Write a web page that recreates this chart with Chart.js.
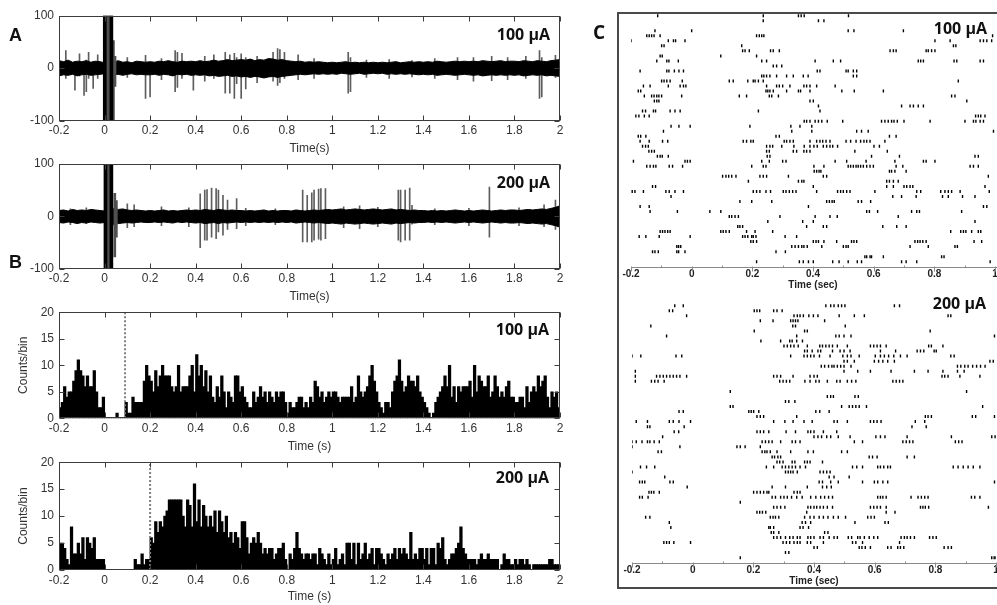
<!DOCTYPE html>
<html><head><meta charset="utf-8">
<script src="https://cdn.jsdelivr.net/npm/chart.js@4/dist/chart.umd.min.js"></script>
<style>
html,body{margin:0;padding:0;background:#fff;}
body{position:relative;width:997px;height:605px;overflow:hidden;}
canvas{position:absolute;}
.lab{position:absolute;font-family:'Liberation Sans',Arial,sans-serif;font-weight:bold;font-size:18px;line-height:22px;color:#111;}
.amp{position:absolute;font-family:'Open Sans',sans-serif;font-weight:bold;font-size:16px;line-height:20px;color:#111;white-space:nowrap;}
#frame{position:absolute;left:617px;top:12px;width:420px;height:577px;border:2px solid #4a4a4a;box-sizing:border-box;}
</style></head><body>
<div id="frame"></div>
<canvas id="cA1" width="580" height="160" style="left:0;top:0"></canvas>
<canvas id="cA2" width="580" height="160" style="left:0;top:150px"></canvas>
<canvas id="cB1" width="580" height="160" style="left:0;top:300px"></canvas>
<canvas id="cB2" width="580" height="155" style="left:0;top:450px"></canvas>
<canvas id="cC1" width="420" height="295" style="left:600px;top:0"></canvas>
<canvas id="cC2" width="420" height="305" style="left:600px;top:290px"></canvas>
<div class="lab" style="left:9px;top:24px">A</div>
<div class="lab" style="left:9px;top:251px">B</div>
<div class="lab" style="left:593px;top:21px;font-family:'Open Sans',sans-serif;font-size:19px">C</div>
<div class="amp" style="right:447px;top:24px">100 µA</div>
<div class="amp" style="right:447px;top:172px">200 µA</div>
<div class="amp" style="right:448px;top:319px">100 µA</div>
<div class="amp" style="right:448px;top:467px">200 µA</div>
<div class="amp" style="right:10px;top:18px">100 µA</div>
<div class="amp" style="right:11px;top:293px">200 µA</div>
<script>
// ---------- tick labels ----------
const timeTicks = [-0.2,0,0.2,0.4,0.6,0.8,1,1.2,1.4,1.6,1.8,2];
const timeTickLabels = ['-0.2','0','0.2','0.4','0.6','0.8','1','1.2','1.4','1.6','1.8','2'];
const ampTicks = [-100,0,100];
const ampTickLabels = ['-100','0','100'];
const countTicks = [0,5,10,15,20];
const countTickLabels = ['0','5','10','15','20'];
const rasterTicks = [-0.2,0,0.2,0.4,0.6,0.8,1];
const rasterTickLabels = ['-0.2','0','0.2','0.4','0.6','0.8','1'];

// ---------- A: raw traces (noise band envelope every 0.02 s from -0.2 s) ----------
const bandStart = -0.2, bandStep = 0.02;
const traceA100Upper = [14,12,15,11,13,12,14,11,13,12, 10,12,11,14,11,12,10,13,12,11, 12,11,13,12,14,12,11,13,12,13,
 12,14,12,13,15,13,14,16,14,15, 16,15,17,14,16,15,18,17,15,16, 14,13,12,13,11,12,11,12,11,10,
 11,10,11,12,10,11,10,11,10,11, 10,11,10,11,12,10,11,12,11,12, 11,12,11,13,12,11,12,13,12,13,
 12,13,12,14,13,12,13,14,12,13, 13,12,14,13,12,14,13,12,14,15,16];
const traceA100Lower = [-15,-13,-14,-12,-15,-13,-12,-14,-13,-12, -11,-12,-13,-12,-14,-12,-11,-13,-12,-13, -13,-12,-14,-12,-13,-15,-12,-13,-12,-14,
 -13,-14,-13,-15,-14,-16,-15,-14,-16,-15, -17,-16,-18,-16,-17,-19,-17,-16,-18,-16, -15,-14,-13,-12,-13,-12,-11,-12,-11,-12,
 -11,-12,-10,-11,-12,-11,-10,-12,-11,-10, -11,-10,-12,-11,-12,-11,-12,-11,-12,-13, -12,-13,-12,-14,-13,-12,-13,-14,-13,-12,
 -13,-14,-13,-15,-14,-13,-14,-13,-14,-13, -14,-13,-15,-14,-13,-14,-13,-15,-14,-15,-16];
const traceA200Upper = [11,12,10,13,11,12,11,13,12,11, 10,14,15,13,14,12,11,12,11,10, 11,10,11,12,10,11,10,11,12,11,
 12,11,13,12,11,13,12,11,12,11, 11,10,11,10,11,12,10,11,10,11, 11,10,12,11,10,11,12,11,12,13,
 12,13,14,12,13,14,13,12,13,14, 13,12,13,14,12,13,12,11,12,11, 11,10,11,10,11,10,11,12,11,10,
 11,10,11,12,11,10,11,12,11,12, 12,11,12,13,12,13,14,13,15,17,20];
const traceA200Lower = [-12,-13,-11,-12,-14,-12,-13,-11,-12,-13, -12,-15,-16,-14,-13,-12,-13,-12,-11,-12, -12,-11,-12,-11,-12,-13,-11,-12,-11,-12,
 -13,-12,-14,-13,-12,-14,-12,-13,-12,-11, -12,-11,-12,-11,-12,-11,-12,-11,-12,-11, -12,-11,-13,-12,-11,-12,-13,-12,-13,-14,
 -13,-14,-15,-13,-14,-15,-14,-13,-14,-15, -14,-13,-14,-15,-13,-14,-13,-12,-13,-12, -12,-11,-12,-11,-12,-11,-12,-13,-12,-11,
 -12,-11,-12,-13,-12,-11,-12,-13,-12,-13, -13,-12,-13,-14,-13,-14,-15,-14,-16,-18,-21];
// spikes: [time s, min, max]
const spikesA100 = [[-0.17,-20,33],[-0.13,-42,12],[-0.11,-15,27],[-0.09,-52,10],[-0.08,-45,15],[-0.07,-20,30],[-0.05,-39,12],[-0.03,-20,25],
 [0.10,-18,20],[0.18,-58,24],[0.20,-55,10],[0.25,-22,18],[0.31,-45,33],[0.32,-37,30],[0.34,-20,28],[0.39,-42,12],[0.44,-25,22],[0.48,-20,25],
 [0.53,-48,30],[0.55,-48,25],[0.57,-58,28],[0.58,-30,20],[0.60,-58,27],[0.62,-40,20],[0.67,-28,22],[0.74,-25,30],[0.76,-33,37],[0.77,-28,35],[0.79,-20,30],
 [0.85,-22,25],[0.92,-20,18],[1.07,-48,30],[1.08,-45,20],[1.15,-18,15],[1.25,-20,16],[1.35,-17,14],[1.45,-20,18],[1.55,-22,20],[1.62,-25,20],
 [1.70,-24,22],[1.77,-22,20],[1.85,-20,22],[1.91,-58,33],[1.92,-55,20],[1.98,-18,24]];
const spikesA200 = [[-0.15,-16,14],[-0.08,-14,16],[0.10,-22,24],[0.13,-20,22],[0.25,-18,18],[0.37,-20,16],
 [0.42,-60,43],[0.44,-46,50],[0.45,-46,51],[0.47,-40,54],[0.49,-43,53],[0.50,-30,50],[0.52,-36,40],[0.54,-25,31],[0.58,-24,34],[0.62,-18,15],[0.75,-16,14],
 [0.87,-49,50],[0.89,-49,40],[0.91,-49,45],[0.92,-46,50],[0.94,-44,52],[0.95,-46,53],[0.97,-43,53],
 [1.05,-22,18],[1.12,-24,20],[1.20,-20,17],[1.29,-46,50],[1.30,-49,50],[1.32,-46,50],[1.34,-46,54],[1.35,-15,21],[1.45,-16,14],[1.60,-18,15],
 [1.69,-40,56],[1.82,-18,16],[1.93,-20,22],[1.98,-25,31]];
// stimulus artifacts: [time s, min, max]
const artifactBlackA100 = [[0.001,-100,100],[0.03,-100,100]];
const artifactGrayA100 = [[0.012,-100,100],[0.019,-100,100],[0.039,-100,52],[0.046,-35,22]];
const artifactBlackA200 = [[0.004,-100,100],[0.03,-100,100]];
const artifactGrayA200 = [[0.013,-100,100],[0.02,-100,100],[0.045,-78,44],[0.052,-40,30]];

// ---------- B: PSTH, 0.01 s bins from -0.2 s ----------
const histStart = -0.2, binWidth = 0.01;
const psth100 = [2,3,6,4,5,5,7,9,11,9, 8,6,8,6,6,9,5,2,2,4, 0,0,0,0,0,1,0,0,0,3, 1,1,4,3,3,3,3,7,10,8,
 7,5,9,6,8,10,8,8,8,6, 5,6,10,5,6,6,6,8,10,5, 12,8,10,6,9,5,8,4,3,6, 4,8,5,2,5,4,3,8,8,5,
 6,4,3,2,2,5,3,4,6,4, 5,3,5,4,3,5,4,5,5,3, 1,3,2,2,3,4,4,2,3,2, 4,3,7,6,4,5,3,4,5,4,
 5,5,4,3,4,4,4,4,6,3, 4,8,5,4,5,6,8,10,7,5, 3,2,1,3,3,2,5,7,8,11, 7,5,6,8,7,7,6,8,5,4,
 3,2,1,0,1,3,4,5,6,8, 6,10,4,6,3,6,5,6,6,6, 7,4,10,5,8,7,6,6,8,4, 5,8,6,4,5,4,6,7,4,4,
 3,3,4,4,2,6,3,5,6,5, 8,6,7,8,4,2,5,4,5,2];
const psth200 = [5,5,4,2,1,8,3,3,5,3, 6,2,6,5,4,6,2,2,2,2, 0,0,0,0,0,0,0,0,0,0, 0,0,0,2,1,1,3,1,2,2,
 6,5,9,7,9,8,10,11,13,13, 13,13,13,13,10,8,13,12,8,16, 9,13,8,12,10,8,10,8,11,7, 11,9,7,10,6,7,5,7,6,4,
 9,9,6,3,5,6,5,7,5,3, 4,3,4,4,2,3,4,4,5,2, 0,3,2,4,7,4,3,2,3,3, 2,3,3,1,4,3,2,1,3,1,
 2,4,1,2,3,1,5,5,2,5, 1,5,2,3,5,2,3,4,1,4, 4,3,2,1,3,2,3,4,2,4, 3,4,3,2,7,2,3,2,4,4,
 2,4,1,4,4,1,5,4,6,2, 1,2,3,3,4,5,8,4,3,2, 2,2,2,1,2,3,2,2,3,2, 2,2,2,0,1,3,2,2,1,1,
 2,1,2,2,1,2,1,0,1,1, 1,1,1,1,1,2,2,1,1,1];
const stimLine100 = 0.09, stimLine200 = 0.2;

// ---------- C: rasters, spike times (s) per trial ----------
const raster100 = [
[-0.112,0.236,0.352,0.361,0.371,0.517],
[0.236,0.418,0.436],
[],
[-0.121,0,0.516,0.535,0.698],
[-0.148,-0.14,-0.132,-0.124,-0.104,0.214,0.223,0.231,0.238,0.992],
[-0.2,-0.077,-0.06,-0.053,-0.022,0.802,0.852,0.951,0.962,0.973,0.989],
[-0.099,-0.091,0.165,0.863,0.871],
[0.168,0.176,0.19,0.26,0.269,0.289,0.654,0.665,0.674,0.773,0.78,0.791,0.802],
[-0.104,-0.097,0.096,0.214],
[-0.115,-0.082,-0.075,-0.044,0.231,0.247,0.407,0.467,0.491,0.747,0.755,0.764,0.865,0.874,0.951,0.962],
[0.269,0.28,0.297],
[-0.17,-0.082,-0.075,-0.057,-0.042,-0.027,0.414,0.423,0.509,0.516,0.533,0.544],
[0.231,0.238,0.247,0.258,0.28,0.313,0.335,0.368,0.384,0.533,0.544],
[-0.099,-0.091,-0.082,-0.071,-0.031,0.124,0.137,0.185,0.203,0.209,0.22,0.236,0.879],
[-0.159,-0.137,-0.077,-0.038,-0.027,-0.019,0.247,0.28,0.289,0.3,0.324,0.37,0.379,0.39,0.412,0.473],
[-0.176,-0.168,0.245,0.251,0.258,0.269,0.313,0.352,0.359,0.39,0.495,0.536,0.632],
[-0.156,-0.132,-0.124,-0.115,-0.108,-0.099,-0.033,0.157,0.181,0.256,0.264,0.286,0.857,0.868],
[-0.123,-0.115,-0.108,0.39,0.401,0.907],
[0.418,0.692,0.72,0.731,0.747,0.764],
[-0.162,-0.152,-0.126,-0.119,-0.071,-0.055,-0.038,0.22,0.423],
[-0.184,-0.174,-0.156,-0.14,0.936,0.945,0.953,0.967],
[0.371,0.379,0.39,0.407,0.418,0.429,0.447,0.498,0.626,0.637,0.648,0.659,0.667,0.678,0.7,0.786,0.901,0.929,0.937,0.951,0.962],
[-0.068,-0.042,-0.005,0.192,0.327,0.357,0.396],
[-0.093,0.33,0.396,0.544,0.56,0.582,0.995],
[-0.176,-0.168,-0.151,0.278,0.289,0.652,0.674],
[-0.17,-0.14,-0.096,-0.079,0.17,0.181,0.195,0.203,0.305,0.313,0.324,0.335,0.39,0.412,0.423,0.432,0.443,0.456,0.509,0.524,0.542,0.557,0.568,0.577,0.588,0.637],
[-0.162,-0.152,-0.143,0.247,0.258,0.267,0.297,0.337,0.371,0.39,0.403,0.414,0.434,0.445,0.456,0.465,0.481,0.601,0.619],
[-0.141,-0.132,-0.123,0.247,0.256,0.335,0.346,0.37,0.379,0.39,0.538,0.645],
[-0.113,-0.104,-0.097,-0.077,0.249,0.258,0.593,0.685,0.934,0.945],
[-0.192,-0.022,-0.014,-0.005,0.231,0.256,0.3,0.311,0.473,0.511,0.575,0.67,0.764,0.773,0.802],
[-0.148,-0.137,-0.126,-0.118,-0.074,-0.063,-0.03,0.198,0.236,0.245,0.403,0.436,0.516,0.524,0.533,0.542,0.549,0.557,0.566,0.577,0.588,0.599,0.674,0.696,0.918,0.929,0.945],
[0.404,0.412,0.42,0.426,0.652,0.659,0.67,0.707],
[0.102,0.113,0.122,0.132,0.146,0.225,0.236,0.247,0.319,0.434,0.445,0.978],
[0.187,0.352,0.363,0.37,0.643,0.652,0.665,0.681],
[-0.129,-0.119,0.401,0.643,0.665,0.7,0.709,0.72,0.729,0.967],
[-0.196,-0.187,-0.159,-0.085,-0.074,-0.055,-0.027,0.203,0.214,0.225,0.245,0.26,0.302,0.311,0.322,0.333,0.344,0.412,0.481,0.491,0.5,0.511,0.522,0.604,0.742,0.755,0.821,0.835,0.846,0.857,0.885,0.981],
[-0.068,0.663,0.692,0.74,0.827,0.846,0.893,0.934],
[0.159,0.198,0.264,0.445,0.454,0.463,0.47,0.549,0.56,0.59],
[-0.17,-0.14,0.385,0.962,0.973],
[-0.137,-0.047,0.06,0.096,0.577,0.586,0.613,0.725,0.742,0.751,0.89],
[0.124,0.132,0.143,0.154,0.291,0.407,0.456,0.48,0.681],
[0.251,0.366,0.401,0.934],
[0.152,0.159,0.168,0.379,0.434,0.445,0.63,0.676,0.707],
[-0.104,-0.096,-0.088,-0.079,-0.071,0.096,0.104,0.113,0.124,0.181,0.209,0.267,0.854,0.887,0.896,0.904,0.923,0.945,0.953],
[-0.173,-0.151,-0.107,-0.005,0.168,0.176,0.185,0.198,0.203,0.212,0.308,0.346],
[0.195,0.203,0.214,0.401,0.41,0.418,0.436,0.478,0.527,0.535,0.544,0.736,0.745,0.753,0.762,0.773,0.931,0.956],
[-0.049,-0.043,-0.036,0.33,0.341,0.352,0.363,0.37,0.381,0.429,0.5,0.509,0.516,0.72,0.78,0.868,0.876],
[-0.129,-0.121,-0.11,-0.049,-0.043,-0.022,0.278,0.309],
[0.571,0.577,0.588,0.593,0.632,0.824,0.832],
[0.214,0.355,0.368,0.385,0.401,0.465,0.486,0.516,0.546,0.56,0.692,0.707,0.742,0.984]
];
const raster200 = [
[-0.059,-0.031,0.439,0.455,0.466,0.48,0.491,0.502,0.665,0.682],
[-0.077,-0.066,0.203,0.212,0.221,0.267,0.278,0.295],
[-0.02,0.334,0.345,0.354,0.365,0.383,0.398,0.413,0.483,0.533,0.566,0.842,0.851],
[0.223,0.265,0.323,0.331,0.339,0.347,0.435],
[-0.138,0.33,0.339,0.503],
[0.203,0.369,0.378,0.783],
[-0.086,0.343,0.472,0.483,0.499,0.522,0.995],
[0.225,0.29,0.32,0.328,0.343,0.362],
[0.301,0.312,0.323,0.334,0.348,0.378,0.419,0.428,0.439,0.45,0.461,0.477,0.51,0.586,0.597,0.608,0.619,0.638,0.778,0.787,0.825],
[0.369,0.378,0.394,0.413,0.422,0.461,0.486,0.499,0.519,0.619,0.669,0.74,0.751,0.762,0.796,0.803],
[-0.2,-0.171,-0.055,-0.036,0.323,0.367,0.378,0.389,0.4,0.418,0.453,0.495,0.51,0.522,0.549,0.602,0.619,0.632,0.646,0.663,0.685,0.707,0.851,0.862],
[0.499,0.51,0.533,0.599,0.613,0.627,0.643,0.665,0.98,0.991],
[0.424,0.435,0.448,0.459,0.466,0.477,0.488,0.499,0.522,0.873,0.884,0.897,0.908,0.923,0.936,0.949,0.964],
[-0.189,0.499,0.544,0.586,0.654,0.731,0.776,0.825,0.873,0.895],
[-0.189,-0.119,-0.108,-0.097,-0.086,-0.075,-0.064,-0.053,-0.042,-0.02,0.267,0.278,0.29,0.331,0.387,0.4,0.411,0.822,0.831,0.842,0.881,0.947],
[-0.189,-0.136,-0.125,-0.114,-0.094,0.287,0.298,0.309,0.32,0.37,0.387,0.406,0.417,0.444,0.475,0.486,0.51,0.524,0.538,0.66,0.671,0.682,0.693],
[],
[0.124,0.903],
[0.444,0.455,0.464,0.535,0.546],
[0.306,0.317,0.337],
[0.124,0.133,0.491,0.516,0.527,0.538,0.549,0.573,0.956],
[-0.045,-0.031,0.185,0.193,0.201,0.218,0.406,0.419,0.45],
[0.212,0.223,0.234,0.343,0.767,0.776,0.787,0.922,0.933,0.995],
[-0.186,-0.149,-0.077,-0.064,-0.045,-0.007,0.267,0.304,0.331,0.367,0.394,0.466,0.477,0.51,0.586,0.597,0.608,0.621,0.734,0.765],
[-0.149,-0.141,-0.028,0.723,0.77],
[-0.061,-0.046,0.212,0.223,0.234,0.251,0.308,0.339,0.38,0.389,0.4,0.431,0.475],
[-0.099,0.4,0.413,0.425,0.442,0.455,0.48,0.519,0.604,0.619,0.634,0.707,0.853,0.986,0.997],
[-0.2,-0.186,-0.167,-0.149,-0.141,-0.127,-0.11,0.229,0.24,0.251,0.262,0.29,0.328,0.339,0.354,0.533,0.56,0.693,0.704,0.715,0.726,0.866,0.877,0.888],
[-0.2,-0.042,0.146,0.157,0.173,0.223],
[-0.114,-0.103,0.229,0.238,0.245,0.256,0.278,0.323,0.38,0.398,0.491,0.51],
[0.262,0.27,0.281,0.29,0.582,0.593,0.608,0.707,0.731],
[0.278,0.287,0.298,0.328,0.337,0.369,0.378,0.387,0.428],
[-0.172,-0.152,-0.125,0.243,0.267,0.295,0.306,0.317,0.328,0.339,0.354,0.372,0.527,0.541,0.56,0.61,0.619,0.63,0.643,0.652,0.859,0.875,0.892,0.908,0.925,0.947],
[-0.2,0.306,0.315,0.323,0.331,0.345,0.42,0.431,0.442,0.453],
[-0.092,0.45,0.466,0.516],
[-0.175,-0.166,-0.158,-0.075,-0.064,0.417,0.428,0.455,0.48,0.56,0.599,0.61,0.627,0.643,0.995],
[-0.018,0.262,0.306,0.378,0.428,0.442,0.457],
[-0.144,-0.136,-0.128,-0.11,0.201,0.212,0.223,0.234,0.245,0.251,0.334,0.345,0.354],
[-0.175,-0.166,-0.147,0.262,0.273,0.29,0.301,0.312,0.326,0.343,0.361,0.389,0.406,0.422,0.435,0.448,0.461,0.61,0.619,0.627,0.638,0.72,0.743,0.754,0.765,0.776,0.919,0.93,0.947],
[0.157],
[0.267,0.278,0.29,0.304,0.38,0.389,0.4,0.409,0.42,0.431,0.444,0.461,0.586,0.597,0.608,0.619,0.638,0.751,0.759,0.767,0.778,0.975],
[0.212,0.221,0.23,0.241,0.376,0.638,0.667],
[-0.155,-0.141,0.256,0.265,0.273,0.284,0.369,0.387,0.4,0.417,0.431,0.446,0.464,0.48,0.504,0.577,0.588,0.599],
[-0.077,0.361,0.372,0.389,0.535,0.634,0.645],
[-0.072,0.251,0.256,0.267,0.354,0.364,0.382],
[0.259,0.267,0.284,0.435,0.446],
[0.267,0.278,0.29,0.306,0.32,0.331,0.345,0.354,0.38,0.389,0.4,0.42,0.431,0.45,0.466,0.477,0.513,0.524,0.544,0.552,0.566,0.582,0.597,0.61,0.687,0.698,0.707,0.718,0.731,0.781,0.792,0.803],
[-0.095,-0.086,-0.077,-0.062,-0.007,0.298,0.309,0.32,0.334,0.345,0.354,0.378,0.389,0.431,0.527,0.538,0.56,0.682],
[0.4,0.411,0.549,0.558,0.569,0.586,0.643,0.654,0.676,0.685,0.696,0.829,0.842,0.853],
[0.306,0.317],
[0.157,0.986,0.994,1.0]
];

// ---------- plugins ----------
const FONT = "'Liberation Sans', Arial, sans-serif";
const boxPlugin = {
  id: 'box',
  afterDraw(chart, args, o) {
    if (!o || !o.on) return;
    const {ctx, chartArea: a} = chart;
    const x = chart.scales.x, y = chart.scales.y;
    const L = Math.round(a.left) + 0.5, R = Math.round(a.right) - 0.5;
    const T = Math.round(a.top) + 0.5, B = Math.round(a.bottom) - 0.5;
    ctx.save();
    ctx.strokeStyle = '#3c3c3c'; ctx.lineWidth = 1;
    ctx.strokeRect(L, T, R - L, B - T);
    ctx.beginPath();
    x.ticks.forEach(t => {
      const p = Math.round(x.getPixelForValue(t.value)) + 0.5;
      ctx.moveTo(p, B); ctx.lineTo(p, B - 5);
      ctx.moveTo(p, T); ctx.lineTo(p, T + 5);
    });
    y.ticks.forEach(t => {
      const p = Math.round(y.getPixelForValue(t.value)) + 0.5;
      ctx.moveTo(L, p); ctx.lineTo(L + 5, p);
      ctx.moveTo(R, p); ctx.lineTo(R - 5, p);
    });
    ctx.stroke();
    ctx.restore();
  }
};
const rasterAxisPlugin = {
  id: 'rasterAxis',
  afterDraw(chart, args, o) {
    if (!o || !o.on) return;
    const {ctx, chartArea: a} = chart;
    const x = chart.scales.x;
    const yb = Math.round(a.bottom) + 0.5;
    ctx.save();
    ctx.strokeStyle = '#8a8a8a'; ctx.lineWidth = 1;
    ctx.beginPath();
    ctx.moveTo(x.getPixelForValue(x.min), yb); ctx.lineTo(chart.width, yb);
    const tk = x.ticks.map(t => t.value);
    tk.forEach((v, i) => {
      const p = Math.round(x.getPixelForValue(v)) + 0.5;
      ctx.moveTo(p, yb - 1); ctx.lineTo(p, yb + 4);
      if (i < tk.length - 1) {
        const q = Math.round((x.getPixelForValue(v) + x.getPixelForValue(tk[i + 1])) / 2) + 0.5;
        ctx.moveTo(q, yb - 2); ctx.lineTo(q, yb);
      }
    });
    ctx.stroke();
    ctx.restore();
  }
};
Chart.register(boxPlugin, rasterAxisPlugin);

const noGrid = {display: false, drawTicks: false};
function xTimeAxis(title, height, titlePadB) {
  return {
    type: 'linear', min: -0.2, max: 2, offset: false,
    grid: noGrid, border: {display: false},
    afterBuildTicks: s => { s.ticks = timeTicks.map(v => ({value: v})); },
    ticks: {callback: (v, i) => timeTickLabels[i], padding: 3, maxRotation: 0, autoSkip: false, color: '#333', font: {family: FONT, size: 12}},
    title: {display: true, text: title, color: '#333', font: {family: FONT, size: 12}, padding: {top: 0, bottom: titlePadB}},
    afterFit: s => { s.height = height; }
  };
}
function yAxis(min, max, ticks, labels, title) {
  return {
    min: min, max: max, grid: noGrid, border: {display: false},
    afterBuildTicks: s => { s.ticks = ticks.map(v => ({value: v})); },
    ticks: {callback: (v, i) => labels[i], padding: 5, color: '#333', font: {family: FONT, size: 12}},
    title: title ? {display: true, text: title, color: '#333', font: {family: FONT, size: 12}, padding: {top: 16, bottom: 0}} : {display: false},
    afterFit: s => { s.width = 59; }
  };
}
const baseOpts = {responsive: false, animation: false, events: []};

function makeTrace(id, upper, lower, spikes, artBlack, artGray, padTop, xH, titlePadB) {
  const band = arr => arr.map((v, i) => ({x: bandStart + i * bandStep, y: v}));
  const seg = arr => arr.map(s => ({x: s[0], y: [s[1], s[2]]}));
  new Chart(document.getElementById(id), {
    type: 'bar',
    data: {datasets: [
      {type: 'line', data: band(upper), borderColor: '#000', borderWidth: 1, pointRadius: 0, tension: 0, fill: '+1', backgroundColor: '#000', order: 2},
      {type: 'line', data: band(lower), borderColor: '#000', borderWidth: 1, pointRadius: 0, tension: 0, fill: false, order: 2},
      {data: seg(spikes), backgroundColor: '#5e5e5e', barThickness: 1, order: 3},
      {data: seg(artGray), backgroundColor: '#505050', barThickness: 2, order: 1},
      {data: seg(artBlack), backgroundColor: '#000', barThickness: 3, order: 0}
    ]},
    options: Object.assign({}, baseOpts, {
      datasets: {bar: {grouped: false, borderWidth: 0}},
      layout: {padding: {top: padTop, right: 20, left: 0, bottom: 0}},
      plugins: {legend: {display: false}, tooltip: {enabled: false}, box: {on: true}},
      scales: {x: xTimeAxis('Time(s)', xH, titlePadB), y: yAxis(-100, 100, ampTicks, ampTickLabels, null)}
    })
  });
}
function makePsth(id, counts, stim, padTop, xH, titlePadB) {
  new Chart(document.getElementById(id), {
    type: 'bar',
    data: {datasets: [
      {type: 'line', data: [{x: stim, y: 0}, {x: stim, y: 20}], borderColor: '#808080', borderWidth: 2, borderDash: [2, 2], pointRadius: 0, order: 0},
      {data: counts.map((c, i) => ({x: histStart + (i + 0.5) * binWidth, y: c})), backgroundColor: '#000', borderWidth: 0,
       barThickness: 2.6, order: 1}
    ]},
    options: Object.assign({}, baseOpts, {
      datasets: {bar: {grouped: false}},
      layout: {padding: {top: padTop, right: 20, left: 0, bottom: 0}},
      plugins: {legend: {display: false}, tooltip: {enabled: false}, box: {on: true}},
      scales: {x: xTimeAxis('Time (s)', xH, titlePadB), y: yAxis(0, 20, countTicks, countTickLabels, 'Counts/bin')}
    })
  });
}
function makeRaster(id, trials, padLeft, padRight, padTop, yMax, xH, titlePadB) {
  const pts = [];
  trials.forEach((row, r) => row.forEach(t => pts.push({x: t, y: r + 1})));
  new Chart(document.getElementById(id), {
    type: 'scatter',
    data: {datasets: [{data: pts, pointStyle: 'line', rotation: 90, radius: 1.5, borderWidth: 1.4, borderColor: '#000', backgroundColor: '#000'}]},
    options: Object.assign({}, baseOpts, {
      layout: {padding: {top: padTop, right: padRight, left: padLeft, bottom: 0}},
      plugins: {legend: {display: false}, tooltip: {enabled: false}, rasterAxis: {on: true}},
      scales: {
        x: {type: 'linear', min: -0.2, max: 1, offset: false, grid: noGrid, border: {display: false},
            afterBuildTicks: s => { s.ticks = rasterTicks.map(v => ({value: v})); },
            ticks: {callback: (v, i) => rasterTickLabels[i], padding: 2, maxRotation: 0, autoSkip: false, color: '#222', font: {family: FONT, size: 10, weight: 'bold'}},
            title: {display: true, text: 'Time (sec)', color: '#222', font: {family: FONT, size: 10, weight: 'bold'}, padding: {top: 0, bottom: titlePadB}},
            afterFit: s => { s.height = xH; }},
        y: {display: false, min: 0, max: yMax, reverse: true}
      }
    })
  });
}

makeTrace('cA1', traceA100Upper, traceA100Lower, spikesA100, artifactBlackA100, artifactGrayA100, 15.5, 39.5, 4.5);
makeTrace('cA2', traceA200Upper, traceA200Lower, spikesA200, artifactBlackA200, artifactGrayA200, 14, 41.5, 6.3);
makePsth('cB1', psth100, stimLine100, 11, 41.7, 6.3);
makePsth('cB2', psth200, stimLine200, 11.7, 35, 0.8);
makeRaster('cC1', raster100, 31, 25, 10.7, 51, 28.3, 4);
makeRaster('cC2', raster200, 32, 24, 10.7, 52, 32.3, 7.3);
</script>
</body></html>
